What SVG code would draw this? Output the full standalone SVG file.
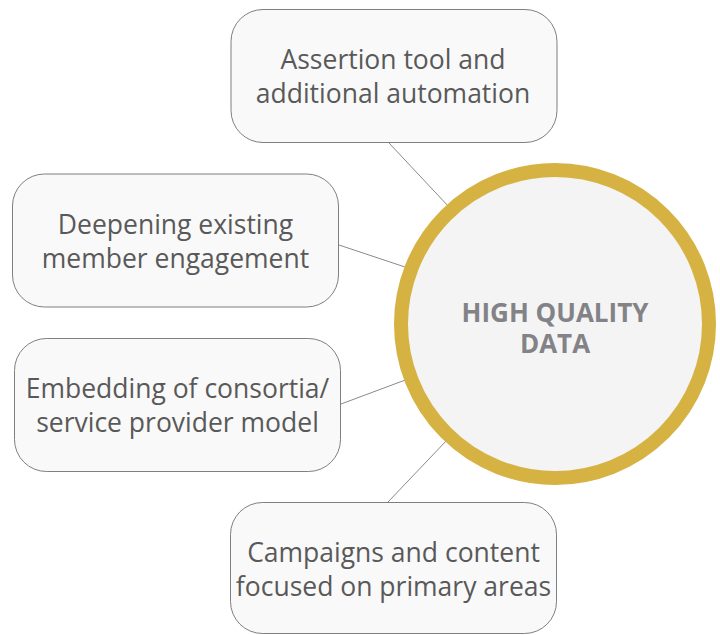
<svg xmlns="http://www.w3.org/2000/svg" width="720" height="635" viewBox="0 0 720 635">
<style>
.box{fill:#f9f9f9;stroke:#7f7f7f;stroke-width:1}
.lbl{font-family:"Open Sans","Liberation Sans",sans-serif;font-size:26.5px;fill:#595959;text-anchor:middle}
.conn{stroke:#8a8a8a;stroke-width:1;fill:none}
.hub{fill:#f4f4f4;stroke:#d6b243;stroke-width:14}
.hubt{font-family:"Open Sans","Liberation Sans",sans-serif;font-size:26px;font-weight:bold;fill:#838387;text-anchor:middle}
</style>
<rect width="720" height="635" fill="#ffffff"/>
<g id="connectors">
<line class="conn" x1="389" y1="143" x2="450" y2="208"/>
<line class="conn" x1="339" y1="245" x2="408" y2="268"/>
<line class="conn" x1="341" y1="404" x2="408" y2="379"/>
<line class="conn" x1="388" y1="502" x2="448" y2="439"/>
</g>
<g id="node-assertion">
<rect class="box" x="231" y="9.5" width="326" height="133" rx="32"/>
<text class="lbl" x="393" y="69">Assertion tool and</text>
<text class="lbl" x="393" y="103">additional automation</text>
</g>
<g id="node-deepening">
<rect class="box" x="12.5" y="174" width="326" height="133" rx="32"/>
<text class="lbl" x="175.5" y="234">Deepening existing</text>
<text class="lbl" x="175.5" y="268">member engagement</text>
</g>
<g id="node-embedding">
<rect class="box" x="14.5" y="338.5" width="326" height="133" rx="32"/>
<text class="lbl" x="177.5" y="398">Embedding of consortia/</text>
<text class="lbl" x="177.5" y="432">service provider model</text>
</g>
<g id="node-campaigns">
<rect class="box" x="230.5" y="502.5" width="326" height="131" rx="32"/>
<text class="lbl" x="393.5" y="562">Campaigns and content</text>
<text class="lbl" x="393.5" y="596">focused on primary areas</text>
</g>
<g id="node-hub">
<circle class="hub" cx="555" cy="324" r="154"/>
<text class="hubt" x="555" y="322">HIGH QUALITY</text>
<text class="hubt" x="555" y="353">DATA</text>
</g>
</svg>
